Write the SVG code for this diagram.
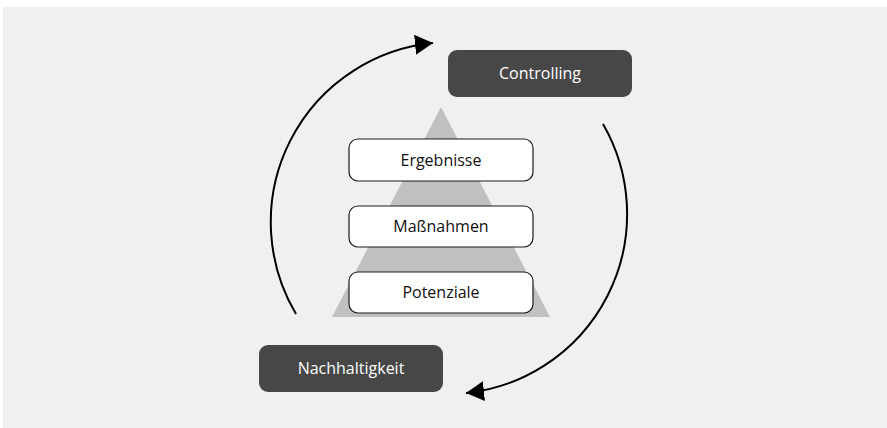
<svg xmlns="http://www.w3.org/2000/svg" width="887" height="428" viewBox="0 0 887 428">
  <defs>
    <marker id="arrow" markerUnits="userSpaceOnUse" markerWidth="20" markerHeight="20" refX="18" refY="10" orient="auto" viewBox="0 0 20 20">
      <path d="M0,0 L18,10 L0,20 Z" fill="#000"/>
    </marker>
    <style>
      .dark { fill: #474747; }
      .light { fill: #ffffff; stroke: #1a1a1a; stroke-width: 1.2; }
      .t { font-family: "Open Sans", "Noto Sans", sans-serif; font-size: 16px; text-anchor: middle; dominant-baseline: central; }
      .tw { fill: #ffffff; }
      .tb { fill: #111111; }
      .conn { fill: none; stroke: #000; stroke-width: 2; marker-end: url(#arrow); }
    </style>
  </defs>
  <rect x="0" y="0" width="887" height="428" fill="#ffffff"/>
  <rect x="3" y="7" width="884" height="421" fill="#f0f0f0"/>
  <polygon points="441,107 550,317 332,317" fill="#c0c0c0"/>

  <g id="controlling">
    <rect class="dark" x="448" y="50" width="184" height="47" rx="9"/>
    <text class="t tw" x="540" y="73">Controlling</text>
  </g>
  <g id="nachhaltigkeit">
    <rect class="dark" x="259" y="345" width="184" height="47" rx="9"/>
    <text class="t tw" x="351" y="368">Nachhaltigkeit</text>
  </g>
  <g id="ergebnisse">
    <rect class="light" x="349" y="139" width="184" height="42" rx="9"/>
    <text class="t tb" x="441" y="159.5">Ergebnisse</text>
  </g>
  <g id="massnahmen">
    <rect class="light" x="349" y="206" width="184" height="41" rx="9"/>
    <text class="t tb" x="441" y="226">Maßnahmen</text>
  </g>
  <g id="potenziale">
    <rect class="light" x="349" y="272" width="184" height="41" rx="9"/>
    <text class="t tb" x="441" y="292">Potenziale</text>
  </g>

  <g id="connectors">
    <path class="conn" d="M296,314 A180,180 0 0 1 433,43"/>
    <path class="conn" d="M603,124 A180,180 0 0 1 466,393"/>
  </g>
</svg>
